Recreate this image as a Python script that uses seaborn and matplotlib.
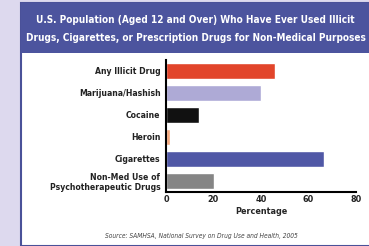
import matplotlib
matplotlib.use("Agg")
import matplotlib.pyplot as plt
import seaborn as sns
import pandas as pd
from matplotlib.patches import Rectangle

categories = ["Any Illicit Drug", "Marijuana/Hashish", "Cocaine", "Heroin",
              "Cigarettes", "Non-Med Use of\nPsychotherapeutic Drugs"]
values = [46.1, 40.1, 13.8, 1.5, 66.6, 20.0]
colors = ["#e2452b", "#aeaad6", "#111111", "#f6a87c", "#5058a6", "#858585"]
xticks = [0, 20, 40, 60, 80]

df = pd.DataFrame({"drug": categories, "pct": values})

sns.set_style("white")
plt.rcParams["font.family"] = ["DejaVu Sans"]
plt.rcParams["font.stretch"] = "condensed"

fig = plt.figure(figsize=(3.69, 2.46), dpi=100)
fig.patch.set_facecolor("#ddd9ee")

W, H = 369, 246
# white panel and title band
fig.add_artist(Rectangle((21 / W, 0), 1, 1 - 3 / H, transform=fig.transFigure,
                         facecolor="white", edgecolor="#4a5199", linewidth=1.5, zorder=-2))
fig.add_artist(Rectangle((21 / W, 1 - 53 / H), 1, 50 / H, transform=fig.transFigure,
                         facecolor="#4c549e", edgecolor="none", zorder=-1))
fig.text(0.53, 1 - 20 / H, "U.S. Population (Aged 12 and Over) Who Have Ever Used Illicit",
         ha="center", va="center", color="white", fontsize=7.2, fontweight="bold",
         fontstretch="condensed")
fig.text(0.53, 1 - 38 / H, "Drugs, Cigarettes, or Prescription Drugs for Non-Medical Purposes",
         ha="center", va="center", color="white", fontsize=7.2, fontweight="bold",
         fontstretch="condensed")

ax = fig.add_axes([166 / W, 1 - 192 / H, 190 / W, 132 / H])
sns.barplot(data=df, x="pct", y="drug", hue="drug", palette=colors,
            saturation=1, legend=False, width=0.74, ax=ax)
ax.set_xlim(0, 80)
ax.set_xticks(xticks)
ax.set_xlabel("Percentage", fontsize=6.5, fontweight="bold", labelpad=2)
ax.set_ylabel("")
ax.tick_params(axis="y", length=0, pad=4, labelsize=6.2)
ax.tick_params(axis="x", length=3, width=1, direction="in", pad=2, labelsize=6.5)
for lab in ax.get_yticklabels() + ax.get_xticklabels():
    lab.set_fontweight("bold")
    lab.set_color("#222222")
sns.despine(ax=ax)
for s in ["left", "bottom"]:
    ax.spines[s].set_linewidth(1.5)
    ax.spines[s].set_color("black")
ax.set_facecolor("white")

fig.text(0.545, 1 - 236 / H, "Source: SAMHSA, National Survey on Drug Use and Health, 2005",
         ha="center", va="center", fontsize=4.8, style="italic", color="#444444")

fig.savefig("out.png", dpi=100, facecolor=fig.get_facecolor())
